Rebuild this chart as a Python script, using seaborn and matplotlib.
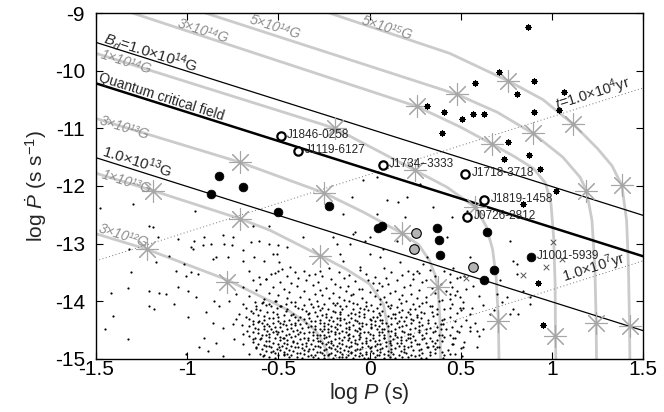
import matplotlib
matplotlib.use("Agg")
import matplotlib.pyplot as plt
import seaborn as sns

# ---------------- data ----------------
x_ticks = [-1.5, -1, -0.5, 0, 0.5, 1, 1.5]
x_tick_labels = ["-1.5", "-1", "-0.5", "0", "0.5", "1", "1.5"]
y_ticks = [-15, -14, -13, -12, -11, -10, -9]
y_tick_labels = ["-15", "-14", "-13", "-12", "-11", "-10", "-9"]

# evolutionary tracks (log P, log Pdot)
track_3e12 = [(-1.5, -12.83), (-1.22, -13.10), (-0.78, -13.63), (-0.55, -13.99), (-0.45, -14.15),
              (-0.36, -14.34), (-0.30, -14.50), (-0.27, -14.63), (-0.235, -14.86), (-0.22, -15.02)]
track_1e13 = [(-1.5, -11.78), (-1.19, -12.08), (-0.71, -12.57), (-0.545, -12.77), (-0.27, -13.21),
              (-0.13, -13.44), (0.0, -13.70), (0.076, -14.05), (0.103, -14.5), (0.115, -15.02)]
track_3e13 = [(-1.5, -10.83), (-0.71, -11.59), (-0.25, -12.12), (-0.03, -12.46), (0.177, -12.82),
              (0.27, -13.02), (0.33, -13.30), (0.36, -13.55), (0.375, -13.76), (0.386, -14.3), (0.39, -15.02)]
track_1e14 = [(-1.5, -9.70), (-0.19, -11.0), (0.25, -11.73), (0.424, -12.02), (0.58, -12.37),
              (0.64, -12.7), (0.675, -13.1), (0.695, -13.6), (0.707, -14.35), (0.71, -15.02)]
track_3e14 = [(-1.30, -9.0), (0.259, -10.62), (0.50, -10.98), (0.67, -11.27), (0.80, -11.5), (0.90, -11.7),
              (0.965, -11.95), (0.995, -12.3), (1.01, -12.9), (1.018, -13.7), (1.02, -14.61), (1.022, -15.02)]
track_5e14 = [(-0.90, -9.0), (0.478, -10.41), (0.70, -10.72), (0.897, -11.09), (1.06, -11.5), (1.155, -11.85),
              (1.19, -12.08), (1.22, -12.6), (1.236, -13.4), (1.243, -14.38), (1.245, -15.02)]
track_5e15 = [(-0.22, -9.0), (0.44, -9.70), (0.762, -10.18), (0.95, -10.5), (1.118, -10.93), (1.25, -11.35),
              (1.33, -11.65), (1.384, -11.99), (1.41, -12.6), (1.42, -13.4), (1.426, -14.43), (1.428, -15.02)]

# age markers on the tracks
star_pts = [(-1.22, -13.10), (-0.78, -13.66), (-1.19, -12.08), (-0.71, -12.57), (-0.27, -13.22),
            (-0.71, -11.59), (-0.25, -12.12), (0.177, -12.82), (0.375, -13.76),
            (-0.19, -11.0), (0.25, -11.73), (0.58, -12.37), (0.707, -14.35),
            (0.259, -10.62), (0.67, -11.27), (1.02, -14.61),
            (0.478, -10.41), (0.897, -11.09), (1.19, -12.08), (1.243, -14.38),
            (0.762, -10.18), (1.118, -10.93), (1.384, -11.99), (1.426, -14.43)]

# constant dipole-field lines and characteristic-age lines (endpoints)
line_B14 = [(-1.5, -9.51), (1.5, -12.51)]
line_qcf = [(-1.5, -10.22), (1.5, -13.22)]
line_B13 = [(-1.5, -11.51), (1.5, -14.51)]
line_t4 = [(-1.5, -13.3), (1.5, -10.3)]
line_t7 = [(-0.2, -15.0), (1.5, -13.3)]

# pulsars
black_pts = [(-0.824, -11.82), (-0.871, -12.14), (-0.692, -12.02), (-0.503, -12.46), (-0.22, -12.34),
             (0.045, -12.73), (0.07, -12.69), (0.369, -12.73), (0.38, -12.93), (0.387, -13.19),
             (0.647, -12.80), (0.683, -13.45), (0.63, -13.64), (0.884, -13.24)]
grey_pts = [(0.255, -12.81), (0.246, -13.10), (0.57, -13.40)]
open_names = ["J1846-0258", "J1119-6127", "J1734\u22123333", "J1718-3718", "J1819-1458", "J0726-2812"]
open_x = [-0.487, -0.39, 0.073, 0.524, 0.63, 0.537]
open_y = [-11.14, -11.40, -11.64, -11.79, -12.25, -12.54]
j1001 = (0.884, -13.24)

magnetar_pts = [(0.871, -9.25), (0.712, -10.02), (0.579, -10.21), (0.903, -10.18), (0.808, -10.41),
                (1.067, -10.37), (0.314, -10.62), (0.409, -10.71), (0.506, -10.84), (0.57, -10.76),
                (0.63, -10.76), (0.903, -10.71), (1.04, -10.69), (0.396, -11.09), (0.762, -11.23),
                (0.738, -11.54), (0.877, -11.46), (0.936, -11.70), (1.022, -12.08), (0.926, -13.68),
                (0.954, -14.41), (0.844, -12.31)]
cross_pts = [(1.008, -12.98), (0.969, -13.40), (0.844, -13.54), (0.53, -13.59), (1.054, -13.27)]

dots_left = [(-1.478, -12.38), (-1.299, -12.32), (-0.957, -12.43), (-1.207, -12.69), (-1.186, -12.72),
             (-1.162, -12.88), (-1.052, -12.92), (-0.961, -12.95), (-0.906, -12.89), (-0.805, -12.85),
             (-0.75, -12.89), (-0.64, -12.69), (-0.55, -12.69), (-0.98, -13.06), (-0.97, -13.09),
             (-0.915, -13.03), (-0.869, -13.01), (-0.796, -13.01), (-0.754, -13.03), (-0.695, -13.12),
             (-0.65, -12.98), (-0.604, -12.95), (-0.549, -13.01), (-0.503, -13.03), (-1.317, -13.09),
             (-1.098, -13.21), (-1.015, -13.35), (-0.86, -13.27), (-0.842, -13.24), (-0.778, -13.24),
             (-0.695, -13.30), (-0.631, -13.24), (-0.577, -13.30), (-0.531, -13.18), (-0.494, -13.32),
             (-1.171, -13.32), (-1.061, -13.47), (-1.006, -13.56), (-0.979, -13.50), (-0.942, -13.53),
             (-1.308, -13.50), (-1.207, -13.82), (-1.153, -13.85), (-1.116, -13.87), (-1.052, -13.76),
             (-0.997, -13.82), (-0.951, -13.93), (-1.07, -14.05), (-1.207, -14.08), (-1.18, -14.14),
             (-1.418, -13.86), (-1.323, -13.77), (-1.409, -14.25), (-1.449, -14.48), (-1.326, -14.66),
             (-1.006, -14.92), (-0.997, -14.27), (-0.897, -14.19), (-0.86, -14.37), (-0.906, -14.63),
             (-0.933, -14.80), (-0.842, -14.72), (-0.805, -14.46), (-0.823, -14.08), (-0.851, -13.99),
             (-0.769, -13.99), (-0.732, -13.87), (-0.695, -13.76), (-0.659, -13.47), (-0.641, -13.64),
             (-0.604, -13.58), (-0.567, -13.61), (-0.54, -13.53), (-0.503, -13.47), (-0.695, -14.05),
             (-0.714, -14.22), (-0.732, -14.31), (-0.75, -14.40), (-0.677, -14.28), (-0.65, -14.17),
             (-0.622, -14.08), (-0.586, -14.02), (-0.549, -14.05), (-0.513, -13.99), (-0.485, -14.08),
             (-0.641, -14.40), (-0.604, -14.34), (-0.577, -14.43), (-0.531, -14.37), (-0.503, -14.28),
             (-0.476, -14.40), (-0.695, -14.57), (-0.741, -14.66), (-0.695, -14.74), (-0.641, -14.66),
             (-0.595, -14.63), (-0.549, -14.57), (-0.513, -14.51), (-0.476, -14.63), (-0.622, -14.80),
             (-0.567, -14.77), (-0.531, -14.86), (-0.494, -14.80), (-0.467, -14.92), (-0.586, -14.95),
             (-0.659, -14.92), (-0.805, -14.95), (-0.887, -14.86)]

dots_core = [
    (-0.48, -13.44), (-0.36, -13.47), (-0.22, -13.43), (-0.05, -13.46), (0.08, -13.42), (0.21, -13.48), (0.33, -13.45), (0.46, -13.43),
    (-0.52, -13.51), (-0.41, -13.49), (-0.30, -13.53), (-0.17, -13.50), (-0.02, -13.52), (0.12, -13.49), (0.27, -13.51), (0.41, -13.48),
    (-0.45, -13.56), (-0.33, -13.54), (-0.26, -13.57), (-0.11, -13.55), (0.03, -13.58), (0.18, -13.54), (0.36, -13.56), (0.52, -13.57),
    (-0.57, -13.61), (-0.39, -13.59), (-0.21, -13.62), (-0.14, -13.60), (-0.01, -13.63), (0.09, -13.59), (0.24, -13.61), (0.31, -13.64), (0.48, -13.60),
    (-0.49, -13.66), (-0.35, -13.64), (-0.28, -13.67), (-0.08, -13.65), (0.05, -13.68), (0.15, -13.64), (0.29, -13.66), (0.44, -13.67),
    (-0.60, -13.71), (-0.43, -13.69), (-0.31, -13.72), (-0.19, -13.70), (-0.12, -13.73), (0.02, -13.69), (0.10, -13.71), (0.22, -13.72), (0.39, -13.70), (0.57, -13.73),
    (-0.53, -13.76), (-0.40, -13.74), (-0.24, -13.77), (-0.16, -13.75), (-0.04, -13.78), (0.07, -13.74), (0.19, -13.76), (0.34, -13.77), (0.45, -13.75),
    (-0.62, -13.81), (-0.47, -13.79), (-0.36, -13.82), (-0.27, -13.80), (-0.13, -13.83), (-0.06, -13.79), (0.04, -13.81), (0.14, -13.82), (0.27, -13.80), (0.42, -13.83), (0.53, -13.79),
    (-0.55, -13.86), (-0.44, -13.84), (-0.30, -13.87), (-0.20, -13.85), (-0.09, -13.88), (0.00, -13.84), (0.11, -13.86), (0.23, -13.87), (0.36, -13.85),
    (-0.66, -13.91), (-0.50, -13.89), (-0.38, -13.92), (-0.26, -13.90), (-0.17, -13.93), (-0.10, -13.89), (0.03, -13.91), (0.08, -13.92), (0.18, -13.90), (0.31, -13.93), (0.47, -13.89), (0.60, -13.91),
    (-0.58, -13.96), (-0.45, -13.94), (-0.33, -13.97), (-0.22, -13.95), (-0.14, -13.98), (-0.04, -13.94), (0.06, -13.96), (0.16, -13.97), (0.26, -13.95), (0.40, -13.98),
    (-0.63, -14.01), (-0.52, -13.99), (-0.41, -14.02), (-0.29, -14.00), (-0.20, -14.03), (-0.11, -13.99), (-0.02, -14.01), (0.09, -14.02), (0.20, -14.00), (0.29, -14.03), (0.38, -13.99), (0.51, -14.01),
    (-0.57, -14.06), (-0.46, -14.04), (-0.36, -14.07), (-0.25, -14.05), (-0.16, -14.08), (-0.07, -14.04), (0.01, -14.06), (0.12, -14.07), (0.24, -14.05), (0.34, -14.08), (0.45, -14.04), (0.62, -14.06),
    (-0.68, -14.11), (-0.49, -14.09), (-0.39, -14.12), (-0.31, -14.10), (-0.23, -14.13), (-0.13, -14.09), (-0.05, -14.11), (0.04, -14.12), (0.15, -14.10), (0.22, -14.13), (0.33, -14.09), (0.44, -14.11), (0.56, -14.12),
    (-0.60, -14.16), (-0.45, -14.14), (-0.35, -14.17), (-0.27, -14.15), (-0.19, -14.18), (-0.09, -14.14), (-0.01, -14.16), (0.07, -14.17), (0.18, -14.15), (0.28, -14.18), (0.41, -14.14), (0.50, -14.16),
    (-0.64, -14.21), (-0.53, -14.19), (-0.42, -14.22), (-0.33, -14.20), (-0.24, -14.23), (-0.16, -14.19), (-0.10, -14.21), (-0.03, -14.22), (0.05, -14.20), (0.13, -14.23), (0.21, -14.19), (0.30, -14.21), (0.37, -14.22), (0.48, -14.20), (0.66, -14.23),
    (-0.58, -14.26), (-0.47, -14.24), (-0.38, -14.27), (-0.29, -14.25), (-0.21, -14.28), (-0.12, -14.24), (-0.06, -14.26), (0.02, -14.27), (0.10, -14.25), (0.17, -14.28), (0.26, -14.24), (0.35, -14.26), (0.44, -14.27),
    (-0.66, -14.31), (-0.55, -14.29), (-0.44, -14.32), (-0.36, -14.30), (-0.27, -14.33), (-0.18, -14.29), (-0.14, -14.31), (-0.08, -14.32), (0.00, -14.30), (0.06, -14.33), (0.14, -14.29), (0.23, -14.31), (0.32, -14.32), (0.41, -14.30), (0.53, -14.33),
    (-0.61, -14.36), (-0.50, -14.34), (-0.41, -14.37), (-0.32, -14.35), (-0.25, -14.38), (-0.20, -14.34), (-0.11, -14.36), (-0.04, -14.37), (0.03, -14.35), (0.09, -14.38), (0.19, -14.34), (0.27, -14.36), (0.36, -14.37), (0.47, -14.35), (0.58, -14.38),
    (-0.70, -14.41), (-0.56, -14.39), (-0.46, -14.42), (-0.38, -14.40), (-0.30, -14.43), (-0.23, -14.39), (-0.16, -14.41), (-0.09, -14.42), (-0.02, -14.40), (0.05, -14.43), (0.12, -14.39), (0.20, -14.41), (0.29, -14.42), (0.39, -14.40), (0.50, -14.43),
    (-0.63, -14.46), (-0.52, -14.44), (-0.43, -14.47), (-0.34, -14.45), (-0.27, -14.48), (-0.19, -14.44), (-0.13, -14.46), (-0.06, -14.47), (0.01, -14.45), (0.08, -14.48), (0.16, -14.44), (0.25, -14.46), (0.33, -14.47), (0.45, -14.45), (0.62, -14.48),
    (-0.67, -14.51), (-0.58, -14.49), (-0.48, -14.52), (-0.40, -14.50), (-0.33, -14.53), (-0.25, -14.49), (-0.21, -14.51), (-0.15, -14.52), (-0.08, -14.50), (-0.03, -14.53), (0.04, -14.49), (0.10, -14.51), (0.18, -14.52), (0.27, -14.50), (0.35, -14.53), (0.42, -14.49), (0.55, -14.51),
    (-0.61, -14.56), (-0.53, -14.54), (-0.44, -14.57), (-0.36, -14.55), (-0.29, -14.58), (-0.23, -14.54), (-0.17, -14.56), (-0.11, -14.57), (-0.05, -14.55), (0.02, -14.58), (0.07, -14.54), (0.14, -14.56), (0.22, -14.57), (0.31, -14.55), (0.40, -14.58), (0.49, -14.54),
    (-0.66, -14.61), (-0.57, -14.59), (-0.49, -14.62), (-0.41, -14.60), (-0.34, -14.63), (-0.27, -14.59), (-0.22, -14.61), (-0.14, -14.62), (-0.09, -14.60), (-0.02, -14.63), (0.05, -14.59), (0.11, -14.61), (0.17, -14.62), (0.24, -14.60), (0.33, -14.63), (0.44, -14.59), (0.60, -14.61),
    (-0.60, -14.66), (-0.52, -14.64), (-0.45, -14.67), (-0.38, -14.65), (-0.31, -14.68), (-0.25, -14.64), (-0.19, -14.66), (-0.12, -14.67), (-0.06, -14.65), (0.00, -14.68), (0.08, -14.64), (0.13, -14.66), (0.20, -14.67), (0.29, -14.65), (0.37, -14.68), (0.47, -14.64),
    (-0.64, -14.71), (-0.55, -14.69), (-0.47, -14.72), (-0.42, -14.70), (-0.35, -14.73), (-0.28, -14.69), (-0.23, -14.71), (-0.17, -14.72), (-0.10, -14.70), (-0.04, -14.73), (0.03, -14.69), (0.09, -14.71), (0.15, -14.72), (0.23, -14.70), (0.31, -14.73), (0.40, -14.69), (0.52, -14.71),
    (-0.58, -14.76), (-0.50, -14.74), (-0.43, -14.77), (-0.37, -14.75), (-0.30, -14.78), (-0.24, -14.74), (-0.20, -14.76), (-0.13, -14.77), (-0.07, -14.75), (-0.01, -14.78), (0.06, -14.74), (0.12, -14.76), (0.19, -14.77), (0.26, -14.75), (0.35, -14.78), (0.45, -14.74),
    (-0.62, -14.81), (-0.54, -14.79), (-0.46, -14.82), (-0.39, -14.80), (-0.33, -14.83), (-0.27, -14.79), (-0.21, -14.81), (-0.16, -14.82), (-0.11, -14.80), (-0.05, -14.83), (0.01, -14.79), (0.07, -14.81), (0.14, -14.82), (0.21, -14.80), (0.28, -14.83), (0.38, -14.79), (0.50, -14.81),
    (-0.57, -14.86), (-0.49, -14.84), (-0.42, -14.87), (-0.36, -14.85), (-0.29, -14.88), (-0.25, -14.84), (-0.18, -14.86), (-0.12, -14.87), (-0.08, -14.85), (-0.02, -14.88), (0.04, -14.84), (0.10, -14.86), (0.17, -14.87), (0.24, -14.85), (0.33, -14.88), (0.43, -14.84),
    (-0.60, -14.91), (-0.52, -14.89), (-0.45, -14.92), (-0.38, -14.90), (-0.32, -14.93), (-0.26, -14.89), (-0.22, -14.91), (-0.15, -14.92), (-0.10, -14.90), (-0.04, -14.93), (0.02, -14.89), (0.08, -14.91), (0.13, -14.92), (0.20, -14.90), (0.27, -14.93), (0.36, -14.89), (0.47, -14.91),
    (-0.55, -14.96), (-0.47, -14.94), (-0.40, -14.97), (-0.34, -14.95), (-0.28, -14.98), (-0.23, -14.94), (-0.17, -14.96), (-0.13, -14.97), (-0.06, -14.95), (-0.01, -14.98), (0.05, -14.94), (0.11, -14.96), (0.18, -14.97), (0.25, -14.95), (0.31, -14.98), (0.41, -14.94),
]

dots_core2 = [
    (-0.59, -14.035), (-0.43, -14.02), (-0.32, -14.045), (-0.18, -14.03), (-0.09, -14.025), (0.06, -14.04), (0.17, -14.03), (0.31, -14.02),
    (-0.54, -14.085), (-0.41, -14.075), (-0.28, -14.09), (-0.19, -14.07), (-0.02, -14.085), (0.10, -14.09), (0.27, -14.075),
    (-0.62, -14.135), (-0.51, -14.125), (-0.37, -14.14), (-0.26, -14.12), (-0.15, -14.135), (-0.03, -14.13), (0.11, -14.125), (0.25, -14.14), (0.37, -14.13),
    (-0.56, -14.185), (-0.46, -14.17), (-0.30, -14.19), (-0.20, -14.175), (-0.06, -14.185), (0.02, -14.17), (0.16, -14.19), (0.34, -14.18),
    (-0.61, -14.235), (-0.51, -14.225), (-0.43, -14.24), (-0.34, -14.22), (-0.26, -14.235), (-0.16, -14.23), (-0.08, -14.225), (0.06, -14.24), (0.14, -14.23), (0.22, -14.22),
    (-0.53, -14.285), (-0.41, -14.275), (-0.33, -14.29), (-0.24, -14.27), (-0.16, -14.285), (-0.10, -14.29), (-0.03, -14.275), (0.04, -14.28), (0.12, -14.29), (0.20, -14.27), (0.28, -14.285),
    (-0.64, -14.335), (-0.58, -14.325), (-0.47, -14.34), (-0.39, -14.32), (-0.30, -14.335), (-0.22, -14.33), (-0.16, -14.325), (-0.07, -14.34), (0.01, -14.33), (0.07, -14.32), (0.16, -14.335), (0.24, -14.33), (0.40, -14.325),
    (-0.59, -14.385), (-0.49, -14.375), (-0.43, -14.39), (-0.35, -14.37), (-0.27, -14.385), (-0.18, -14.39), (-0.13, -14.375), (-0.06, -14.38), (0.01, -14.39), (0.07, -14.37), (0.15, -14.385), (0.23, -14.38), (0.32, -14.375),
    (-0.66, -14.435), (-0.55, -14.425), (-0.49, -14.44), (-0.41, -14.42), (-0.32, -14.435), (-0.25, -14.43), (-0.21, -14.425), (-0.11, -14.44), (-0.04, -14.43), (0.03, -14.42), (0.10, -14.435), (0.18, -14.43), (0.27, -14.425), (0.37, -14.44),
    (-0.61, -14.485), (-0.54, -14.475), (-0.45, -14.49), (-0.37, -14.47), (-0.30, -14.485), (-0.23, -14.49), (-0.18, -14.475), (-0.11, -14.48), (-0.05, -14.49), (0.01, -14.47), (0.07, -14.485), (0.14, -14.48), (0.22, -14.475), (0.31, -14.49), (0.39, -14.48),
    (-0.64, -14.535), (-0.56, -14.525), (-0.50, -14.54), (-0.42, -14.52), (-0.38, -14.535), (-0.31, -14.53), (-0.26, -14.525), (-0.19, -14.54), (-0.13, -14.53), (-0.07, -14.52), (-0.01, -14.535), (0.05, -14.53), (0.12, -14.525), (0.19, -14.54), (0.27, -14.53), (0.36, -14.52),
    (-0.59, -14.585), (-0.51, -14.575), (-0.46, -14.59), (-0.39, -14.57), (-0.31, -14.585), (-0.25, -14.59), (-0.19, -14.575), (-0.12, -14.58), (-0.06, -14.59), (0.00, -14.57), (0.08, -14.585), (0.14, -14.58), (0.21, -14.575), (0.29, -14.59), (0.38, -14.58),
    (-0.63, -14.635), (-0.55, -14.625), (-0.47, -14.64), (-0.43, -14.62), (-0.36, -14.635), (-0.29, -14.63), (-0.24, -14.625), (-0.17, -14.64), (-0.11, -14.63), (-0.05, -14.62), (0.02, -14.635), (0.08, -14.63), (0.15, -14.625), (0.21, -14.64), (0.30, -14.63), (0.41, -14.62),
    (-0.57, -14.685), (-0.49, -14.675), (-0.42, -14.69), (-0.34, -14.67), (-0.27, -14.685), (-0.21, -14.69), (-0.15, -14.675), (-0.08, -14.68), (-0.02, -14.69), (0.05, -14.67), (0.11, -14.685), (0.17, -14.68), (0.25, -14.675), (0.34, -14.69),
    (-0.61, -14.735), (-0.53, -14.725), (-0.45, -14.74), (-0.40, -14.72), (-0.32, -14.735), (-0.26, -14.73), (-0.21, -14.725), (-0.15, -14.74), (-0.08, -14.73), (-0.02, -14.72), (0.04, -14.735), (0.11, -14.73), (0.17, -14.725), (0.27, -14.74), (0.36, -14.73),
    (-0.55, -14.785), (-0.48, -14.775), (-0.41, -14.79), (-0.35, -14.77), (-0.28, -14.785), (-0.22, -14.79), (-0.18, -14.775), (-0.10, -14.78), (-0.04, -14.79), (0.03, -14.77), (0.09, -14.785), (0.16, -14.78), (0.23, -14.775), (0.32, -14.79),
    (-0.59, -14.835), (-0.51, -14.825), (-0.44, -14.84), (-0.37, -14.82), (-0.31, -14.835), (-0.24, -14.83), (-0.19, -14.825), (-0.14, -14.84), (-0.07, -14.83), (0.00, -14.82), (0.06, -14.835), (0.12, -14.83), (0.19, -14.825), (0.27, -14.84), (0.36, -14.83),
    (-0.54, -14.885), (-0.47, -14.875), (-0.40, -14.89), (-0.34, -14.87), (-0.27, -14.885), (-0.21, -14.89), (-0.16, -14.875), (-0.10, -14.88), (-0.05, -14.89), (0.01, -14.87), (0.06, -14.885), (0.12, -14.88), (0.19, -14.875), (0.29, -14.89), (0.40, -14.88),
    (-0.58, -14.935), (-0.50, -14.925), (-0.43, -14.94), (-0.36, -14.92), (-0.30, -14.935), (-0.25, -14.93), (-0.19, -14.925), (-0.12, -14.94), (-0.08, -14.93), (-0.02, -14.92), (0.04, -14.935), (0.10, -14.93), (0.16, -14.925), (0.23, -14.94), (0.33, -14.93),
    (-0.52, -14.985), (-0.44, -14.975), (-0.37, -14.99), (-0.31, -14.97), (-0.25, -14.985), (-0.20, -14.99), (-0.15, -14.975), (-0.09, -14.98), (-0.03, -14.99), (0.03, -14.97), (0.08, -14.985), (0.14, -14.98), (0.21, -14.975), (0.28, -14.99),
]

dots_right = [(-0.097, -12.19), (-0.034, -11.90), (0.04, -11.85), (0.094, -12.25), (0.04, -12.48), (-0.024, -12.95),
              (-0.079, -12.80), (0.076, -13.09), (0.158, -12.28), (0.204, -12.19), (0.277, -11.96), (0.195, -12.54),
              (0.259, -13.47), (0.168, -13.32), (0.314, -13.24), (0.442, -13.53), (0.497, -13.585), (0.552, -13.24),
              (0.478, -13.82), (0.442, -13.96), (0.515, -14.11), (0.552, -14.45), (0.46, -14.74), (0.588, -14.80),
              (0.506, -14.95), (0.35, -12.37), (0.451, -12.54), (0.534, -12.43), (0.424, -12.89), (-0.107, -13.0),
              (-0.198, -12.89), (-0.161, -13.18), (-0.143, -12.48), (0.003, -13.18), (0.771, -12.95), (0.789, -13.30),
              (0.808, -13.53), (0.716, -13.64), (0.698, -13.87), (0.753, -13.93), (0.68, -14.16), (0.771, -14.22),
              (0.725, -14.02), (0.844, -13.82), (0.817, -14.22), (0.88, -14.05), (0.808, -13.35), (0.789, -14.14),
              (0.88, -13.93), (0.552, -14.22), (0.497, -13.93), (0.588, -14.51), (0.46, -14.63), (0.405, -14.40),
              (0.369, -14.80), (0.442, -14.92), (0.003, -12.89), (-0.088, -12.83), (-0.18, -13.0), (-0.363, -12.89),
              (-0.454, -13.06), (-0.509, -13.18), (-0.052, -13.41), (0.058, -13.24), (-0.143, -13.3), (-0.271, -13.47),
              (-0.436, -13.41), (0.149, -12.95), (0.241, -13.53), (0.296, -13.35), (0.442, -13.88), (0.497, -14.11),
              (0.479, -14.51), (0.515, -14.8), (0.259, -14.28), (0.222, -14.63), (0.314, -14.8), (0.405, -14.98)]

# ---------------- style ----------------
sns.set_theme(style="ticks")
plt.rcParams["font.family"] = ["Liberation Sans", "DejaVu Sans"]
plt.rcParams["mathtext.fontset"] = "custom"
plt.rcParams["mathtext.rm"] = "Liberation Sans"
plt.rcParams["mathtext.it"] = "Liberation Sans:italic"
plt.rcParams["axes.unicode_minus"] = False

fig = plt.figure(figsize=(6.64, 4.12), dpi=100)
ax = fig.add_axes([0.1446, 0.129, 0.8238, 0.8394])

TRACK_C = "#cbcbcb"
STAR_C = "#a6a6a6"


def xy(pts):
    return [p[0] for p in pts], [p[1] for p in pts]


for tr in [track_3e12, track_1e13, track_3e13, track_1e14, track_3e14, track_5e14, track_5e15]:
    tx, ty = xy(tr)
    sns.lineplot(x=tx, y=ty, sort=False, estimator=None, color=TRACK_C, lw=2.0, ax=ax, zorder=1)

for ln in [line_t4, line_t7]:
    lx, ly = xy(ln)
    sns.lineplot(x=lx, y=ly, sort=False, estimator=None, color="#777777", lw=0.7,
                 linestyle=(0, (1, 2.5)), ax=ax, zorder=2)

for ln, w in [(line_B14, 0.9), (line_qcf, 1.8), (line_B13, 0.9)]:
    lx, ly = xy(ln)
    sns.lineplot(x=lx, y=ly, sort=False, estimator=None, color="black", lw=w, ax=ax, zorder=3)

all_dots = dots_left + dots_core + dots_core2 + dots_right
dx, dy = xy(all_dots)
sns.scatterplot(x=dx, y=dy, s=2.5, color="black", linewidth=0, ax=ax, zorder=4)

sx, sy = xy(star_pts)
sns.scatterplot(x=sx, y=sy, marker=(8, 2, 0), s=250, color=STAR_C, edgecolor=STAR_C,
                linewidth=0.8, ax=ax, zorder=5)

mx, my = xy(magnetar_pts)
sns.scatterplot(x=mx, y=my, marker=(8, 2, 0), s=14, color="black", edgecolor="black",
                linewidth=0.9, ax=ax, zorder=6)
cx, cy = xy(cross_pts)
sns.scatterplot(x=cx, y=cy, marker="x", s=16, color="#555555", edgecolor="#555555",
                linewidth=0.7, ax=ax, zorder=6)

bx, by = xy(black_pts)
sns.scatterplot(x=bx, y=by, s=40, color="black", edgecolor="black", linewidth=0.5, ax=ax, zorder=7)
gx, gy = xy(grey_pts)
sns.scatterplot(x=gx, y=gy, s=48, color="#b4b4b4", edgecolor="black", linewidth=0.8, ax=ax, zorder=7)
sns.scatterplot(x=open_x, y=open_y, s=36, color="white", edgecolor="black", linewidth=1.6, ax=ax, zorder=7)

for name, ox, oy in zip(open_names, open_x, open_y):
    ax.text(ox + 0.035, oy + 0.02, name, fontsize=8.5, va="center", ha="left", zorder=8)
ax.text(j1001[0] + 0.035, j1001[1] + 0.02, "J1001-5939", fontsize=8.5, va="center", ha="left", zorder=8)

ROT = 17.5
# black line labels
ax.text(-1.465, -9.51, "$B_d$=1.0\u00d710$^{14}$G", fontsize=11, rotation=-ROT,
        rotation_mode="anchor", ha="left", va="baseline", zorder=8)
ax.text(-1.49, -10.19, "Quantum critical field", fontsize=10, rotation=-ROT,
        rotation_mode="anchor", ha="left", va="baseline", zorder=8)
ax.text(-1.475, -11.49, "1.0\u00d710$^{13}$G", fontsize=11, rotation=-ROT,
        rotation_mode="anchor", ha="left", va="baseline", zorder=8)
ax.text(1.03, -10.68, "$t$=1.0\u00d710$^{4}$yr", fontsize=10.5, rotation=ROT,
        rotation_mode="anchor", ha="left", va="baseline", zorder=8)
ax.text(1.07, -13.67, "1.0\u00d710$^{7}$yr", fontsize=10.5, rotation=ROT,
        rotation_mode="anchor", ha="left", va="baseline", zorder=8)

# grey track labels
grey_labels = [("1\u00d710\u00b9\u2074G", -1.478, -9.78), ("3\u00d710\u00b9\u00b3G", -1.487, -10.92),
               ("1\u00d710\u00b9\u00b3G", -1.474, -11.86), ("3\u00d710\u00b9\u00b2G", -1.491, -12.80),
               ("3\u00d710\u00b9\u2074G", -1.06, -9.25), ("5\u00d710\u00b9\u2074G", -0.665, -9.17),
               ("5\u00d710\u00b9\u2075G", -0.048, -9.19)]
for txt, lx, ly in grey_labels:
    ax.text(lx, ly, txt, fontsize=10, color="#8c8c8c", style="italic", rotation=-ROT,
            rotation_mode="anchor", ha="left", va="baseline", zorder=8,
            family=["Liberation Sans", "DejaVu Sans"])

ax.set_xlim(-1.5, 1.5)
ax.set_ylim(-15, -9)
ax.set_xticks(x_ticks)
ax.set_xticklabels(x_tick_labels)
ax.set_yticks(y_ticks)
ax.set_yticklabels(y_tick_labels)
ax.tick_params(direction="in", top=True, right=True, length=5, width=0.8, labelsize=15,
               colors="black")
ax.tick_params(axis="x", pad=1)
ax.tick_params(axis="y", pad=8)
for sp in ax.spines.values():
    sp.set_visible(True)
    sp.set_color("black")
    sp.set_linewidth(1.0)
ax.set_xlabel("log $P$ (s)", fontsize=15.5, labelpad=1)
ax.set_ylabel("log $\\dot{P}$ (s s$^{-1}$)", fontsize=15, labelpad=4)

fig.savefig("out.png", dpi=100, facecolor="white")
